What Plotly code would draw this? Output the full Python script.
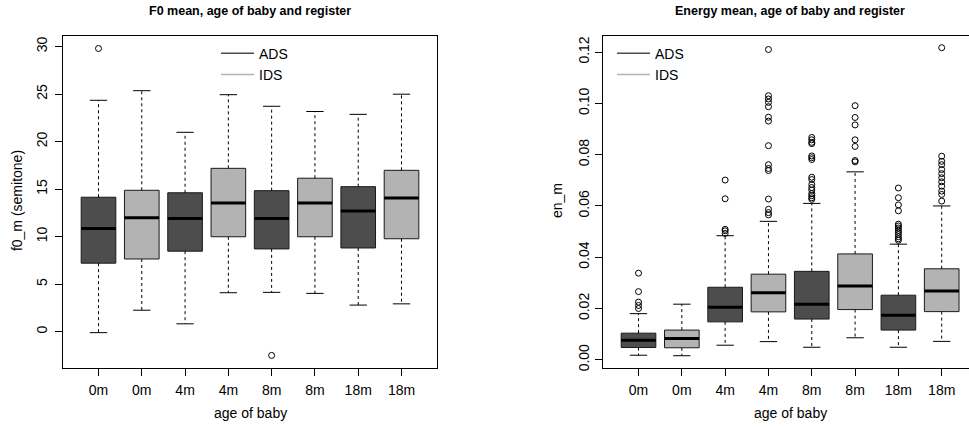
import plotly.graph_objects as go

# ---------------- data ----------------
ages = ["0m", "0m", "4m", "4m", "8m", "8m", "18m", "18m"]
registers = ["ADS", "IDS", "ADS", "IDS", "ADS", "IDS", "ADS", "IDS"]

# F0 mean (semitone)
f0_lower = [-0.10, 2.26, 0.83, 4.10, 4.14, 4.03, 2.80, 2.93]
f0_q1 = [7.21, 7.65, 8.47, 9.99, 8.71, 9.99, 8.81, 9.78]
f0_median = [10.86, 11.99, 11.92, 13.53, 11.92, 13.55, 12.69, 14.06]
f0_q3 = [14.15, 14.88, 14.62, 17.19, 14.84, 16.15, 15.26, 16.98]
f0_upper = [24.35, 25.36, 20.98, 24.94, 23.72, 23.17, 22.87, 24.99]
f0_outliers = [[29.8], [], [], [], [-2.5], [], [], []]

# Energy mean
en_lower = [0.0018, 0.0016, 0.0057, 0.0071, 0.0049, 0.0086, 0.0049, 0.0072]
en_q1 = [0.0048, 0.0047, 0.0148, 0.0187, 0.0159, 0.0196, 0.0116, 0.0188]
en_median = [0.0076, 0.0083, 0.0205, 0.0262, 0.0217, 0.0288, 0.0174, 0.0268]
en_q3 = [0.0104, 0.0116, 0.0283, 0.0334, 0.0345, 0.0413, 0.0252, 0.0355]
en_upper = [0.0180, 0.0217, 0.0484, 0.0540, 0.0610, 0.0733, 0.0451, 0.0600]
en_outliers = [
    [0.0338, 0.0266, 0.0225, 0.0212, 0.0200],
    [],
    [0.0701, 0.0628, 0.0509, 0.0503, 0.0493],
    [0.1210, 0.1030, 0.1017, 0.1004, 0.0987, 0.0946, 0.0931, 0.0835,
     0.0761, 0.0746, 0.0738, 0.0627, 0.0587, 0.0574, 0.0565],
    [0.0867, 0.0858, 0.0848, 0.0843, 0.0795, 0.0788, 0.0781, 0.0712,
     0.0703, 0.0684, 0.0672, 0.0662, 0.0648, 0.0640, 0.0632, 0.0626],
    [0.0991, 0.0945, 0.0916, 0.0858, 0.0832, 0.0777, 0.0772],
    [0.0670, 0.0632, 0.0604, 0.0581, 0.0529, 0.0522, 0.0514, 0.0505,
     0.0497, 0.0489, 0.0480, 0.0472, 0.0466],
    [0.1217, 0.0794, 0.0774, 0.0761, 0.0742, 0.0726, 0.0710, 0.0694,
     0.0677, 0.0658, 0.0645, 0.0619],
]

f0_ticks = [0, 5, 10, 15, 20, 25, 30]
en_ticks = [0.00, 0.02, 0.04, 0.06, 0.08, 0.10, 0.12]

# ---------------- style ----------------
FONT = "Liberation Sans, Arial, Helvetica, sans-serif"
COLORS = {"ADS": "#4d4d4d", "IDS": "#b3b3b3"}
BORDER = "#1a1a1a"
HALF = 0.4      # half box width (boxwex 0.8)
STAPLE = 0.2    # half staple width

fig = go.Figure()


def add_boxes(xa, ya, lower, q1, med, q3, upper, outliers):
    for i in range(len(ages)):
        x = i + 1
        reg = registers[i]
        # box
        fig.add_trace(go.Scatter(
            x=[x - HALF, x + HALF, x + HALF, x - HALF, x - HALF],
            y=[q1[i], q1[i], q3[i], q3[i], q1[i]],
            mode="lines", fill="toself", fillcolor=COLORS[reg],
            line=dict(color=BORDER, width=1),
            xaxis=xa, yaxis=ya, showlegend=False, hoverinfo="skip"))
        # median
        fig.add_trace(go.Scatter(
            x=[x - HALF, x + HALF], y=[med[i], med[i]], mode="lines",
            line=dict(color="#000000", width=3),
            xaxis=xa, yaxis=ya, showlegend=False, hoverinfo="skip"))
        # whiskers (dashed)
        fig.add_trace(go.Scatter(
            x=[x, x, None, x, x], y=[q3[i], upper[i], None, q1[i], lower[i]],
            mode="lines", line=dict(color="#000000", width=1, dash="3px,3px"),
            xaxis=xa, yaxis=ya, showlegend=False, hoverinfo="skip"))
        # staples
        fig.add_trace(go.Scatter(
            x=[x - STAPLE, x + STAPLE, None, x - STAPLE, x + STAPLE],
            y=[upper[i], upper[i], None, lower[i], lower[i]],
            mode="lines", line=dict(color="#000000", width=1),
            xaxis=xa, yaxis=ya, showlegend=False, hoverinfo="skip"))
        # outliers
        if outliers[i]:
            fig.add_trace(go.Scatter(
                x=[x] * len(outliers[i]), y=outliers[i], mode="markers",
                marker=dict(symbol="circle-open", size=6,
                            color="#000000", line=dict(width=1)),
                xaxis=xa, yaxis=ya, showlegend=False, hoverinfo="skip"))


add_boxes("x", "y", f0_lower, f0_q1, f0_median, f0_q3, f0_upper, f0_outliers)
add_boxes("x2", "y2", en_lower, en_q1, en_median, en_q3, en_upper, en_outliers)

# legend entries
for lg, xa, ya in [("legend", "x", "y"), ("legend2", "x2", "y2")]:
    for reg in ["ADS", "IDS"]:
        fig.add_trace(go.Scatter(
            x=[None], y=[None], mode="lines", name=reg,
            line=dict(color=COLORS[reg], width=1.5),
            xaxis=xa, yaxis=ya, legend=lg, showlegend=True))

W, H = 969, 427
L_left, L_right = 63, 437
R_left = 603
top_px, bot_px = 36, 371

axis_common = dict(
    showgrid=False, zeroline=False, showline=True, linecolor="#000000",
    linewidth=1, ticks="outside", ticklen=7, tickwidth=1,
    tickcolor="#000000", tickfont=dict(family=FONT, size=14, color="#000000"),
)

leg_common = dict(xanchor="left", yanchor="top",
                  bgcolor="rgba(0,0,0,0)", borderwidth=0,
                  font=dict(family=FONT, size=14, color="#000000"),
                  tracegroupgap=0, itemwidth=33)

fig.update_layout(
    width=W, height=H,
    margin=dict(l=0, r=0, t=0, b=0),
    paper_bgcolor="white", plot_bgcolor="white",
    font=dict(family=FONT, size=14, color="#000000"),
    xaxis=dict(domain=[L_left / W, L_right / W], range=[0.18, 8.82],
               tickvals=list(range(1, 9)), ticktext=ages, mirror=True,
               anchor="y", ticklabelstandoff=3, **axis_common),
    yaxis=dict(domain=[1 - bot_px / H, 1 - top_px / H], range=[-3.77, 31.15],
               tickvals=f0_ticks, tickangle=-90, mirror=True, anchor="x",
               ticklabelstandoff=2, **axis_common),
    xaxis2=dict(domain=[R_left / W, 1.0], range=[0.18, 8.63],
                tickvals=list(range(1, 9)), ticktext=ages, mirror=True,
                anchor="y2", ticklabelstandoff=3, **axis_common),
    yaxis2=dict(domain=[1 - bot_px / H, 1 - top_px / H], range=[-0.0030, 0.1264],
                tickvals=en_ticks, tickformat=".2f", tickangle=-90,
                mirror=False, anchor="x2", ticklabelstandoff=0, **axis_common),
    legend=dict(x=216 / W, y=1 - 38 / H, **leg_common),
    legend2=dict(x=612 / W, y=1 - 38 / H, **leg_common),
    showlegend=True,
)

annots = [
    dict(text="<b>F0 mean, age of baby and register</b>", x=250 / W, y=1 - 11 / H,
         font=dict(size=12.5)),
    dict(text="<b>Energy mean, age of baby and register</b>", x=790 / W, y=1 - 11 / H,
         font=dict(size=12.5)),
    dict(text="age of baby", x=250 / W, y=1 - 417 / H),
    dict(text="age of baby", x=790 / W, y=1 - 417 / H),
    dict(text="f0_m (semitone)", x=17 / W, y=1 - 203 / H, textangle=-90),
    dict(text="en_m", x=557 / W, y=1 - 203 / H, textangle=-90),
]
for a in annots:
    f = dict(family=FONT, size=14, color="#000000")
    f.update(a.pop("font", {}))
    fig.add_annotation(xref="paper", yref="paper", xanchor="center",
                       yanchor="middle", showarrow=False, font=f, **a)

fig.write_html("out.html", config={"displayModeBar": False})
